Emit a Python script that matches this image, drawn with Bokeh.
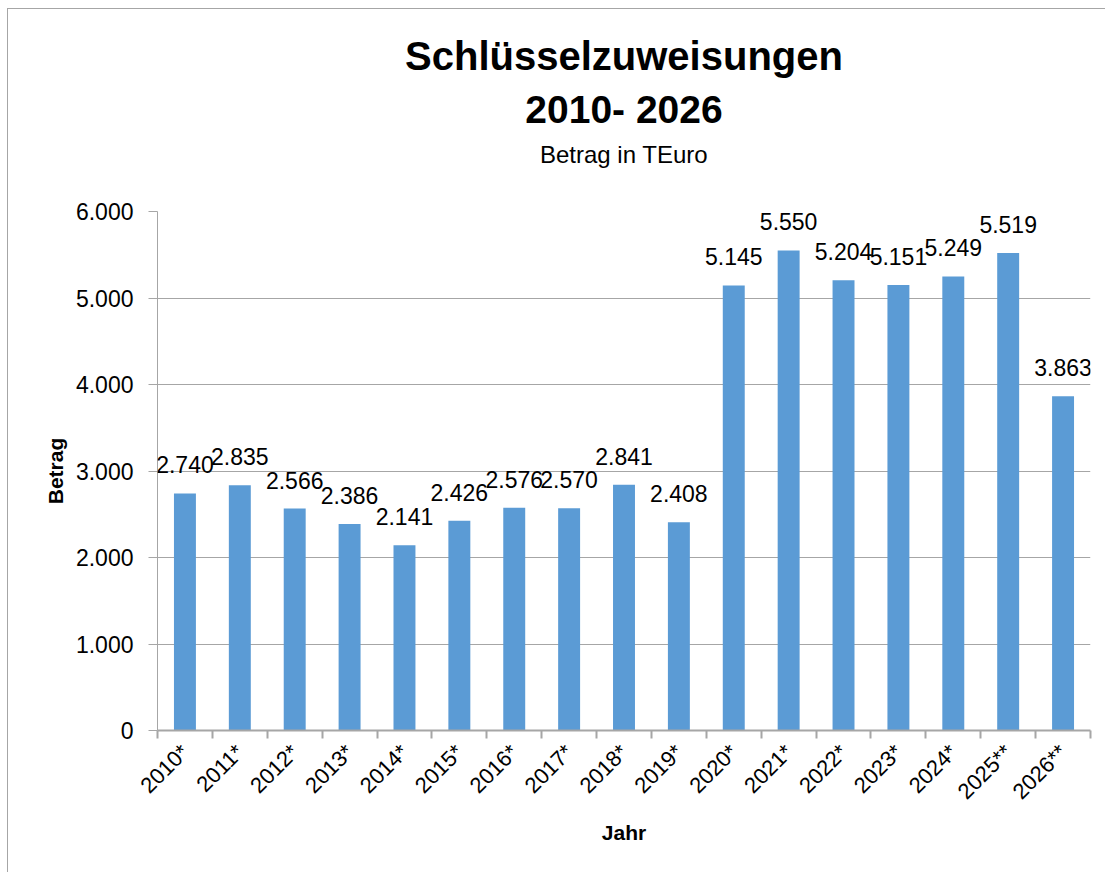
from bokeh.plotting import figure
from bokeh.models import FixedTicker, Title, LabelSet, ColumnDataSource
from bokeh.core.properties import value
from bokeh.embed import file_html
from bokeh.resources import INLINE
import math

# ---- data ----
years = ["2010*", "2011*", "2012*", "2013*", "2014*", "2015*", "2016*", "2017*",
         "2018*", "2019*", "2020*", "2021*", "2022*", "2023*", "2024*", "2025**", "2026**"]
values = [2740, 2835, 2566, 2386, 2141, 2426, 2576, 2570, 2841, 2408,
          5145, 5550, 5204, 5151, 5249, 5519, 3863]
y_ticks = [0, 1000, 2000, 3000, 4000, 5000, 6000]
y_tick_labels = ["0", "1.000", "2.000", "3.000", "4.000", "5.000", "6.000"]
title_lines = ["Schlüsselzuweisungen", "2010- 2026"]
subtitle = "Betrag in TEuro"

FONT = "Liberation Sans"
BAR = "#5B9BD5"
GRID = "#a6a6a6"

pos = list(range(1, len(years) + 1))
labels = [f"{v:,}".replace(",", ".") for v in values]
src = ColumnDataSource(dict(x=pos, top=values, label=labels))

p = figure(width=1098, height=864, x_range=(0.5, len(years) + 0.5), y_range=(0, 6000),
           output_backend="svg", toolbar_location=None, title=None,
           min_border_left=149, min_border_right=16, min_border_top=202, min_border_bottom=143)
p.styles = {"border-top": "1px solid #a6a6a6", "border-left": "1px solid #a6a6a6",
            "margin-left": "7px", "margin-top": "8px"}
p.outline_line_color = None
p.background_fill_color = "white"
p.border_fill_color = "white"

p.vbar(x="x", top="top", width=0.4, source=src, color=BAR, line_color=None)

p.add_layout(LabelSet(x="x", y="top", text="label", source=src, text_align="center",
                      text_baseline="alphabetic", y_offset=20, text_font=value(FONT),
                      text_font_size=value("23px"), text_color="black"))

# x axis
xa = p.xaxis[0]
xa.ticker = FixedTicker(ticks=pos, minor_ticks=[i + 0.5 for i in range(0, len(years) + 1)])
xa.major_label_overrides = {i: y for i, y in zip(pos, years)}
xa.major_tick_out = 0
xa.major_tick_in = 0
xa.minor_tick_out = 8
xa.minor_tick_in = 0
xa.minor_tick_line_color = GRID
xa.minor_tick_line_width = 2
xa.axis_line_color = GRID
xa.axis_line_width = 2
xa.major_label_orientation = math.pi / 4
xa.major_label_text_font = FONT
xa.major_label_text_font_size = "22px"
xa.major_label_text_color = "black"
xa.major_label_standoff = 10
xa.axis_label = "Jahr"
xa.axis_label_text_font = FONT
xa.axis_label_text_font_size = "21px"
xa.axis_label_text_font_style = "bold"
xa.axis_label_text_color = "black"
xa.axis_label_standoff = 5

# y axis
ya = p.yaxis[0]
ya.ticker = FixedTicker(ticks=y_ticks, minor_ticks=[])
ya.major_label_overrides = {t: l for t, l in zip(y_ticks, y_tick_labels)}
ya.major_tick_out = 9
ya.major_tick_in = 0
ya.major_tick_line_color = GRID
ya.axis_line_color = GRID
ya.axis_line_width = 1
ya.major_label_text_font = FONT
ya.major_label_text_font_size = "23px"
ya.major_label_text_color = "black"
ya.major_label_standoff = 15
ya.axis_label = "Betrag"
ya.axis_label_text_font = FONT
ya.axis_label_text_font_size = "21px"
ya.axis_label_text_font_style = "bold"
ya.axis_label_text_color = "black"
ya.axis_label_standoff = 6

p.xgrid.grid_line_color = None
p.ygrid.grid_line_color = GRID
p.ygrid.grid_line_width = 1

# titles stacked above the frame (added closest-first); first one is a blank spacer
p.add_layout(Title(text=" ", text_font_size="1px", standoff=41, text_color="white"), "above")
p.add_layout(Title(text=subtitle, align="center", text_font=FONT,
                   text_font_size="24px", text_font_style="normal", standoff=0,
                   text_color="black"), "above")
p.add_layout(Title(text=title_lines[1], align="center", text_font=FONT,
                   text_font_size="39px", text_font_style="bold", standoff=16,
                   text_color="black"), "above")
p.add_layout(Title(text=title_lines[0], align="center", text_font=FONT,
                   text_font_size="40px", text_font_style="bold", standoff=0,
                   text_color="black"), "above")

open("out.html", "w").write(file_html(p, INLINE))
